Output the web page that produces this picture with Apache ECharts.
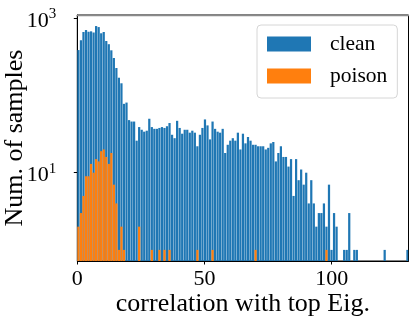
<!DOCTYPE html>
<html>
<head>
<meta charset="utf-8">
<script src="https://cdn.jsdelivr.net/npm/echarts@6/dist/echarts.min.js"></script>
<style>
  html, body { margin: 0; padding: 0; background: #fff; }
  #main { width: 415px; height: 326px; }
</style>
</head>
<body>
<div id="main"></div>
<script>
// 直方图：每个 bin 的样本数（从第 0 个 bin 开始）
const binWidth = 0.995;
const xMax = 130.2;
const yMin = 0.718;
const yMax = 1104;

const clean = [
  388, 520, 665, 705, 670, 678, 655, 794, 770, 640,
  665, 508, 462, 385, 306, 227, 170, 144, 78, 81,
  48, 46, 46, 26, 39, 36, 34, 35, 50, 39,
  37, 37, 38, 39, 38, 40, 44, 31, 28, 47,
  38, 32, 36, 36, 33, 35, 33, 22, 31, 38,
  49, 41, 27, 46, 37, 34, 33, 37, 18, 23,
  26, 28, 26, 33, 20, 32, 24, 29, 26, 23,
  23, 22, 22, 22, 20, 21, 24, 25, 14, 18,
  22, 16, 16, 12, 15, 5, 15, 8, 11, 7,
  10, 4, 8, 4, 2, 3, 3, 4, 2, 7,
  1, 3, 2, 0, 0, 1, 1, 3, 0, 1,
  1, 0, 0, 0, 0, 0, 0, 0, 0, 0,
  0, 1, 0, 0, 0, 0, 0, 0, 0, 0,
  1
];

const poison = [
  2, 3, 5, 9, 9, 13, 10, 15, 14, 19,
  20, 16, 13, 18, 7, 4, 1, 2, 1, 0,
  0, 0, 0, 0, 2, 0, 0, 0, 0, 1,
  0, 0, 1, 0, 1, 0, 1, 0, 0, 0,
  0, 0, 0, 0, 0, 0, 0, 1, 0, 0,
  0, 0, 0, 1, 0, 0, 0, 0, 0, 0,
  0, 0, 0, 0, 0, 0, 0, 0, 0, 0,
  1, 0, 0, 0, 0, 0, 0, 0, 0, 0,
  0, 0, 0, 0, 0, 0, 0, 0, 0, 0,
  0, 0, 0, 0, 0, 0, 0, 0, 1
];

const seriesNames = ['clean', 'poison'];
const colors = ['#1f77b4', '#ff7f0e'];
const xTicks = [0, 50, 100];
const yTicks = [10, 1000];

const FONT = "'Liberation Serif', 'Times New Roman', serif";

// [bin 左边界, bin 右边界, 数量]，数量为 0 的 bin 不画
function toBins(counts) {
  const out = [];
  counts.forEach(function (c, i) {
    if (c > 0) out.push([i * binWidth, (i + 1) * binWidth, c]);
  });
  return out;
}

function renderBar(params, api) {
  const x0 = api.value(0);
  const x1 = Math.min(api.value(1), xMax);
  const top = api.coord([x0, api.value(2)]);
  const bottom = api.coord([x1, yMin]);
  return {
    type: 'rect',
    shape: {
      x: top[0],
      y: top[1],
      width: Math.max(bottom[0] - top[0] - 0.3, 0.5),
      height: bottom[1] - top[1]
    },
    style: { fill: api.visual('color') }
  };
}

const chart = echarts.init(document.getElementById('main'), null, { renderer: 'canvas' });

const option = {
  animation: false,
  backgroundColor: '#fff',
  grid: {
    left: 77.3, right: 6.5, top: 15, bottom: 65,
    outerBoundsMode: 'none', containLabel: false,
    show: true, borderColor: '#000', borderWidth: 1
  },
  legend: {
    data: seriesNames,
    orient: 'vertical',
    left: 257,
    top: 25,
    icon: 'rect',
    itemWidth: 44,
    itemHeight: 15,
    itemGap: 10,
    padding: [8, 10, 11, 10],
    backgroundColor: '#fff',
    borderColor: '#d6d6d6',
    borderWidth: 1,
    borderRadius: 4,
    textStyle: {
      fontFamily: FONT,
      fontSize: 21.5,
      color: '#000',
      padding: [0, 0, 0, 14]
    }
  },
  xAxis: [
    {
      type: 'value',
      min: 0,
      max: xMax,
      interval: 50,
      name: 'correlation with top Eig.',
      nameLocation: 'middle',
      nameGap: 30,
      nameMoveOverlap: false,
      nameTextStyle: { fontFamily: FONT, fontSize: 26, color: '#000' },
      axisLine: { onZero: false, lineStyle: { color: '#000', width: 1 } },
      axisTick: { show: true, length: 3.5, lineStyle: { color: '#000' }, customValues: xTicks },
      axisLabel: {
        customValues: xTicks,
        fontFamily: FONT, fontSize: 22, color: '#000', margin: 7
      },
      splitLine: { show: false }
    },
    {
      type: 'value',
      position: 'top',
      min: 0,
      max: xMax,
      axisLine: { show: true, onZero: false, lineStyle: { color: '#8a8a8a', width: 1.3 } },
      axisTick: { show: false },
      axisLabel: { show: false },
      splitLine: { show: false }
    }
  ],
  yAxis: [
    {
      type: 'log',
      logBase: 10,
      min: yMin,
      max: yMax,
      name: 'Num. of samples',
      nameLocation: 'middle',
      nameGap: 49,
      nameMoveOverlap: false,
      nameTextStyle: { fontFamily: FONT, fontSize: 26, color: '#000' },
      axisLine: { show: true, onZero: false, lineStyle: { color: '#000', width: 1 } },
      axisTick: { show: true, length: 3.5, lineStyle: { color: '#000' }, customValues: yTicks },
      axisLabel: {
        customValues: yTicks,
        margin: 21,
        formatter: function (v) {
          return '{b|10}{s|' + Math.round(Math.log10(v)) + '}';
        },
        rich: {
          b: { fontFamily: FONT, fontSize: 22, color: '#000', padding: [6, 0, 0, 0] },
          s: { fontFamily: FONT, fontSize: 15, color: '#000', padding: [0, 0, 8, 0] }
        }
      },
      splitLine: { show: false }
    }
  ],
  series: [
    {
      name: seriesNames[0],
      type: 'custom',
      xAxisIndex: 0,
      yAxisIndex: 0,
      itemStyle: { color: colors[0] },
      encode: { x: [0, 1], y: 2 },
      renderItem: renderBar,
      data: toBins(clean)
    },
    {
      name: seriesNames[1],
      type: 'custom',
      xAxisIndex: 0,
      yAxisIndex: 0,
      itemStyle: { color: colors[1] },
      encode: { x: [0, 1], y: 2 },
      renderItem: renderBar,
      data: toBins(poison)
    }
  ]
};

chart.setOption(option);
</script>
</body>
</html>
